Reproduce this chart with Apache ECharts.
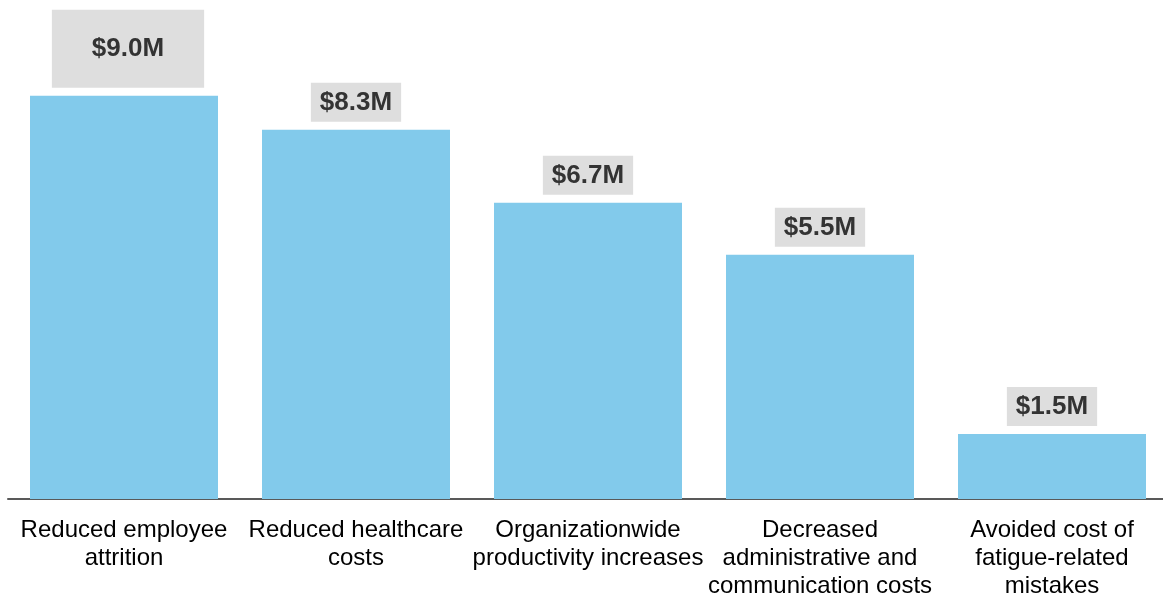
<!DOCTYPE html>
<html>
<head>
<meta charset="utf-8">
<script src="https://cdn.jsdelivr.net/npm/echarts@6/dist/echarts.min.js"></script>
<style>
  html, body { margin: 0; padding: 0; background: #fff; }
  #chart { width: 1163px; height: 597px; }
</style>
</head>
<body>
<div id="chart"></div>
<script>
  const categories = [
    'Reduced employee\nattrition',
    'Reduced healthcare\ncosts',
    'Organizationwide\nproductivity increases',
    'Decreased\nadministrative and\ncommunication costs',
    'Avoided cost of\nfatigue-related\nmistakes'
  ]
  // bar heights; labels are the rounded figures shown
  const values = [9.0, 8.24, 6.61, 5.45, 1.45]
  const valueLabels = ['$9.0M', '$8.3M', '$6.7M', '$5.5M', '$1.5M']

  const font = '"Liberation Sans", Arial, sans-serif'

  const data = values.map(function(v, i) {
    const item = { value: v }
    // the first label sits in a bigger box, a bit to the right
    if (i === 0) {
      item.label = { padding: [26, 40, 26, 40], offset: [4, 0] }
    }
    return item
  })

  const chart = echarts.init(document.getElementById('chart'))
  chart.setOption({
    animation: false,
    grid: {
      left: 8,
      width: 1160,
      bottom: 98,
      top: 51,
      outerBoundsMode: 'none'
    },
    xAxis: {
      type: 'category',
      data: categories,
      axisLine: { show: true, lineStyle: { color: '#595959', width: 2 } },
      axisTick: { show: false },
      axisLabel: {
        interval: 0,
        margin: 17,
        color: '#000',
        fontSize: 24,
        lineHeight: 28,
        fontFamily: font
      }
    },
    yAxis: {
      type: 'value',
      min: 0,
      max: 10,
      show: false,
      splitLine: { show: false }
    },
    series: [{
      type: 'bar',
      data: data,
      barWidth: 188,
      itemStyle: { color: '#82CAEB' },
      label: {
        show: true,
        position: 'top',
        distance: 8,
        formatter: function(p) { return valueLabels[p.dataIndex] },
        color: '#333',
        fontWeight: 'bold',
        fontSize: 26,
        fontFamily: font,
        backgroundColor: '#DEDEDE',
        padding: [7, 9, 6, 9]
      }
    }]
  })
</script>
</body>
</html>
